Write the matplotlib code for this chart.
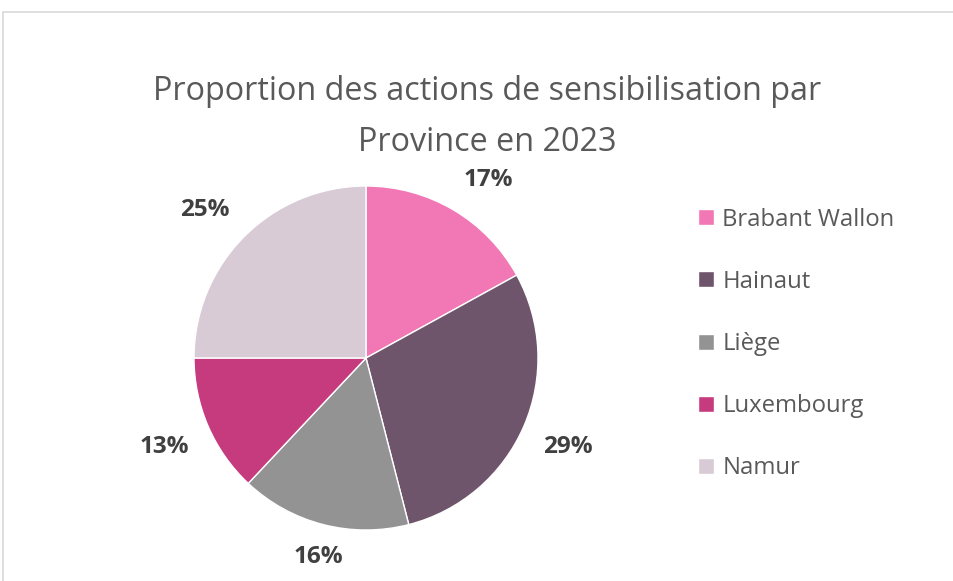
import numpy as np
import matplotlib
matplotlib.use("Agg")
import matplotlib.pyplot as plt
from matplotlib.patches import Rectangle

plt.rcParams['font.family'] = ['Open Sans', 'DejaVu Sans']

# donnees
provinces = ["Brabant Wallon", "Hainaut", "Liège", "Luxembourg", "Namur"]
pourcentages = [17, 29, 16, 13, 25]
couleurs = ["#F177B5", "#6F556B", "#939393", "#C63B7E", "#D8CBD5"]
titre = "Proportion des actions de sensibilisation par\nProvince en 2023"

W, H = 954, 581
fig = plt.figure(figsize=(W / 100, H / 100), dpi=100)

# cadre du graphique (style Excel)
fig.patches.append(Rectangle((3 / W, -0.1), 1.2, (H - 12) / H + 0.1, transform=fig.transFigure,
                             fill=False, edgecolor="#D9D9D9", linewidth=1.2))

fig.text(487 / W, 1 - 117 / H, titre, ha="center", va="center", fontsize=23.3,
         color="#595959", linespacing=1.72)

# camembert: centre (366, 358), rayon 172 px
cx, cy, r = 366, 358, 172
ax = fig.add_axes([(cx - r) / W, (H - cy - r) / H, 2 * r / W, 2 * r / H])
wedges, _ = ax.pie(pourcentages, colors=couleurs, startangle=90, counterclock=False,
                   wedgeprops=dict(edgecolor="white", linewidth=1))

# etiquettes a l'exterieur
for w, p in zip(wedges, pourcentages):
    a = np.deg2rad((w.theta1 + w.theta2) / 2)
    c, s = np.cos(a), np.sin(a)
    ha = "left" if c > 0.3 else ("right" if c < -0.3 else "center")
    va = "bottom" if s > 0.3 else ("top" if s < -0.3 else "center")
    ax.text(1.12 * c, 1.12 * s, f"{p}%", ha=ha, va=va, fontsize=17.5, fontweight="bold",
            color="#404040")
ax.set_xlim(-1, 1)
ax.set_ylim(-1, 1)
ax.set_aspect("equal")

leg = fig.legend(wedges, provinces, loc="upper left", bbox_to_anchor=(677 / W, 1 - 186 / H),
                 frameon=False, fontsize=17.2, handlelength=0.65, handleheight=0.65,
                 handletextpad=0.35, labelspacing=1.6, labelcolor="#595959")

fig.savefig("out.png", dpi=100)
